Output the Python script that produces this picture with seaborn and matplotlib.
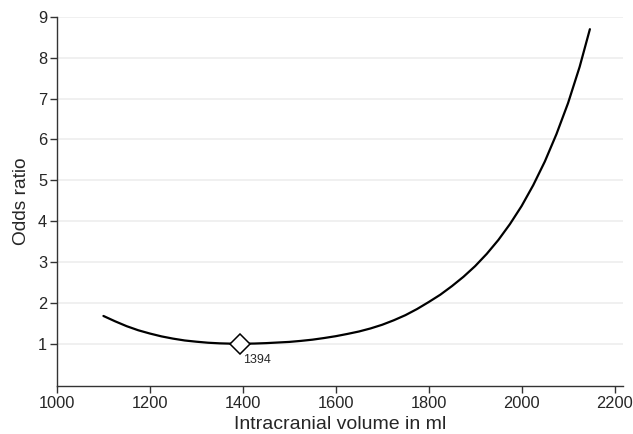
import numpy as np
import pandas as pd
import matplotlib
matplotlib.use("Agg")
import matplotlib.pyplot as plt
import seaborn as sns

# values (every 25 ml)
icv_ml = [1100, 1125, 1150, 1175, 1200, 1225, 1250, 1275, 1300, 1325, 1350, 1375,
          1394, 1425, 1450, 1475, 1500, 1525, 1550, 1575, 1600, 1625, 1650, 1675,
          1700, 1725, 1750, 1775, 1800, 1825, 1850, 1875, 1900, 1925, 1950, 1975,
          2000, 2025, 2050, 2075, 2100, 2125, 2147]
odds_ratio = [1.68, 1.55, 1.43, 1.33, 1.25, 1.18, 1.125, 1.08, 1.05, 1.025, 1.01, 1.002,
              1.00, 1.005, 1.015, 1.03, 1.045, 1.07, 1.10, 1.14, 1.185, 1.24, 1.30, 1.375,
              1.465, 1.575, 1.70, 1.85, 2.02, 2.20, 2.41, 2.64, 2.90, 3.20, 3.54, 3.93,
              4.37, 4.88, 5.46, 6.13, 6.89, 7.78, 8.70]
min_icv = [1394]
min_or = [1.0]
x_ticks = [1000, 1200, 1400, 1600, 1800, 2000, 2200]
y_ticks = [1, 2, 3, 4, 5, 6, 7, 8, 9]

df = pd.DataFrame({"icv": icv_ml, "odds": odds_ratio})

sns.set_theme(style="white")
plt.rcParams['font.family'] = ['Liberation Sans', 'DejaVu Sans']

fig = plt.figure(figsize=(6.33, 4.34), dpi=100)
ax = fig.add_axes([0.090, 0.111, 0.894, 0.850])

# light horizontal grid
for v in y_ticks:
    ax.axhline(v, color="#eeeeee", lw=1.2, zorder=0)

sns.lineplot(data=df, x="icv", y="odds", color="black", lw=1.6, ax=ax, zorder=2)
ax.plot(min_icv, min_or, marker="D", ms=10.5, mfc="white", mec="black", mew=1.1,
        ls="none", zorder=3)
ax.annotate(str(min_icv[0]), (min_icv[0], min_or[0]), xytext=(3, -10),
            textcoords="offset pixels", ha="left", va="top", fontsize=9)

ax.set_xlim(1000, 2218)
ax.set_ylim(-0.03, 9)
ax.set_xticks(x_ticks)
ax.set_yticks(y_ticks)
ax.set_xlabel("Intracranial volume in ml", fontsize=14, labelpad=4)
ax.set_ylabel("Odds ratio", fontsize=13.8, labelpad=6)

for s in ["top", "right"]:
    ax.spines[s].set_visible(False)
for s in ["left", "bottom"]:
    ax.spines[s].set_color("#333333")
    ax.spines[s].set_linewidth(1.0)
ax.tick_params(axis="both", direction="out", length=5, width=1, color="#333333",
               labelsize=11.8, pad=2, left=True, bottom=True)

fig.savefig("out.png", dpi=100)
